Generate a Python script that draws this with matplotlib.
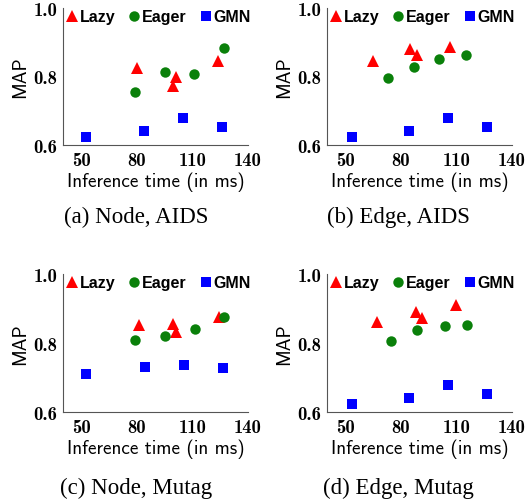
import matplotlib
matplotlib.use("Agg")
import matplotlib.pyplot as plt

# ---- data ----
panels = ["(a) Node, AIDS", "(b) Edge, AIDS", "(c) Node, Mutag", "(d) Edge, Mutag"]

lazy_x = [[79.8, 99.3, 101.3, 123.6],
          [64.9, 85.1, 88.7, 106.5],
          [80.9, 99.3, 101.3, 124.5],
          [67.1, 88.2, 91.3, 109.7]]
lazy_y = [[0.824, 0.773, 0.799, 0.844],
          [0.845, 0.880, 0.864, 0.885],
          [0.853, 0.856, 0.831, 0.876],
          [0.860, 0.889, 0.872, 0.910]]

eager_x = [[78.8, 94.9, 110.8, 126.9],
           [73.2, 86.8, 100.7, 114.9],
           [78.8, 94.9, 111.2, 126.9],
           [74.4, 88.6, 103.6, 115.7]]
eager_y = [[0.755, 0.813, 0.808, 0.883],
           [0.795, 0.828, 0.852, 0.862],
           [0.809, 0.820, 0.841, 0.874],
           [0.806, 0.838, 0.849, 0.852]]

gmn_x = [[52.7, 83.8, 105.0, 126.1],
         [53.4, 84.4, 105.4, 126.6],
         [52.7, 84.3, 105.3, 126.7],
         [53.4, 84.4, 105.4, 126.6]]
gmn_y = [[0.622, 0.640, 0.679, 0.652],
         [0.622, 0.640, 0.679, 0.652],
         [0.711, 0.731, 0.736, 0.728],
         [0.622, 0.640, 0.679, 0.652]]

series_names = ["Lazy", "Eager", "GMN"]
x_ticks = [50, 80, 110, 140]
y_ticks = [0.6, 0.8, 1.0]
y_ticklabels = ["0.6", "0.8", "1.0"]
x_label = "Inference time (in ms)"
y_label = "MAP"

W, H = 526, 502
fig = plt.figure(figsize=(W / 100, H / 100), dpi=100)

# axes boxes in pixels: (left, top, right, bottom)
boxes = [(63, 9, 248, 146), (327, 9, 512, 146),
         (63, 275, 248, 413), (327, 275, 512, 413)]
caption_pos = [(136, 217), (398, 217), (136, 488), (398, 488)]

styles = [dict(marker="^", color="#ff0000", ms=8.5),
          dict(marker="o", color="#0a800a", ms=7.5),
          dict(marker="s", color="#0000ff", ms=7)]

for i in range(4):
    l, t, r, b = boxes[i]
    ax = fig.add_axes([l / W, 1 - b / H, (r - l) / W, (b - t) / H])
    data = [(lazy_x[i], lazy_y[i]), (eager_x[i], eager_y[i]), (gmn_x[i], gmn_y[i])]
    for (xs, ys), st, name in zip(data, styles, series_names):
        ax.plot(xs, ys, linestyle="none", marker=st["marker"], color=st["color"],
                markersize=st["ms"], markeredgewidth=0, label=name, clip_on=False)
    ax.set_xlim(40, 140)
    ax.set_ylim(0.6, 1.0)
    ax.set_xticks(x_ticks)
    ax.set_xticklabels([str(v) for v in x_ticks], fontfamily="cmb10", fontsize=13.5)
    ax.set_yticks(y_ticks)
    ax.set_yticklabels(y_ticklabels, fontfamily="cmb10", fontsize=13.5)
    ax.spines["top"].set_visible(False)
    ax.spines["right"].set_visible(False)
    for s in ("left", "bottom"):
        ax.spines[s].set_color("#555555")
        ax.spines[s].set_linewidth(0.8)
    ax.tick_params(length=0, pad=4)
    ax.set_xlabel(x_label, fontfamily="cmss10", fontsize=13.8, labelpad=2)
    ax.set_ylabel(y_label, fontfamily="cmss10", fontsize=13.8, labelpad=3)
    leg = ax.legend(loc="upper left", bbox_to_anchor=(0.008, 0.99), ncol=3,
                    frameon=False, handletextpad=0.0, columnspacing=0.72,
                    borderaxespad=0, borderpad=0, handlelength=0.95,
                    prop=dict(family="Liberation Sans", weight="bold", size=11.5))
    cx, cy = caption_pos[i]
    fig.text(cx / W, 1 - cy / H, panels[i], ha="center", va="center",
             fontfamily="Liberation Serif", fontsize=16.5)

fig.savefig("out.png", dpi=100)
